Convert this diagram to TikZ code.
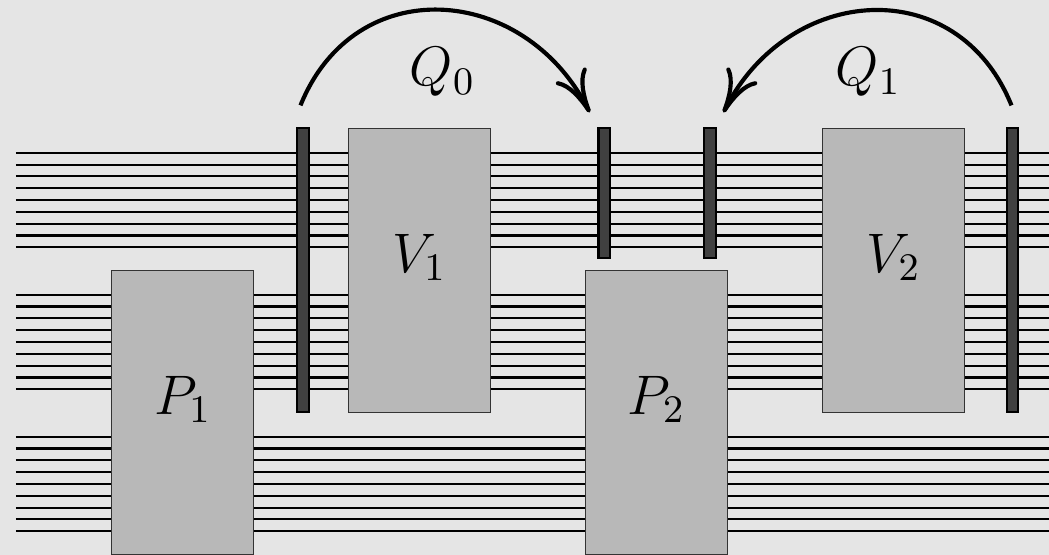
\documentclass[tikz,border=0pt]{standalone}
\usepackage{fix-cm}
\usetikzlibrary{arrows.meta}
\definecolor{bgcol}{gray}{0.9}
\definecolor{boxcol}{gray}{0.72}
\definecolor{barcol}{gray}{0.25}
\tikzset{
  wire/.style={line width=0.5pt, black},
  block/.style={draw=black!80, line width=0.3pt, fill=boxcol, minimum width=12mm,
    minimum height=24mm, inner sep=0pt, anchor=south west},
  tag/.style={label={[yshift=1.1mm]center:#1}},
  barrier/.style={draw=black, line width=0.5pt, fill=barcol, minimum width=1mm,
    inner sep=0pt, anchor=south west},
  hop/.style={line width=1pt, -{To[length=3.6mm,width=2.9mm]}}
}
\begin{document}
\begin{tikzpicture}[x=1mm, y=1mm, font=\fontsize{13.4pt}{16pt}\selectfont]
\fill[bgcol] (0,0) rectangle (88.67,46.91);
\useasboundingbox (0,0) rectangle (88.67,46.91);
% wires
\foreach \g in {2,14,26}
  \foreach \k in {0,...,8}
    \draw[wire] (1.35,\g+\k) -- (90,\g+\k);
% blocks
\node[block, tag=$P_1$] (P1) at (9.4,0) {};
\node[block, tag=$V_1$] (V1) at (29.4,12) {};
\node[block, tag=$P_2$] (P2) at (49.45,0) {};
\node[block, tag=$V_2$] (V2) at (69.5,12) {};
% barriers
\node[barrier, minimum height=24mm] (b1) at (25,12) {};
\node[barrier, minimum height=11mm] (b2) at (50.5,25) {};
\node[barrier, minimum height=11mm] (b3) at (59.45,25) {};
\node[barrier, minimum height=24mm] (b4) at (85,12) {};
% hops
\coordinate (q0s) at (25.4,38);
\coordinate (q0e) at (49.85,37.4);
\coordinate (q1s) at (85.5,38);
\coordinate (q1e) at (61.15,37.4);
\draw[hop] (q0s) to[out=68,in=117,looseness=1.28] (q0e);
\draw[hop] (q1s) to[out=112,in=63,looseness=1.28] (q1e);
\node (Q0) at (37.4,40.8) {$Q_0$};
\node (Q1) at (73.4,40.8) {$Q_1$};
\end{tikzpicture}
\end{document}
